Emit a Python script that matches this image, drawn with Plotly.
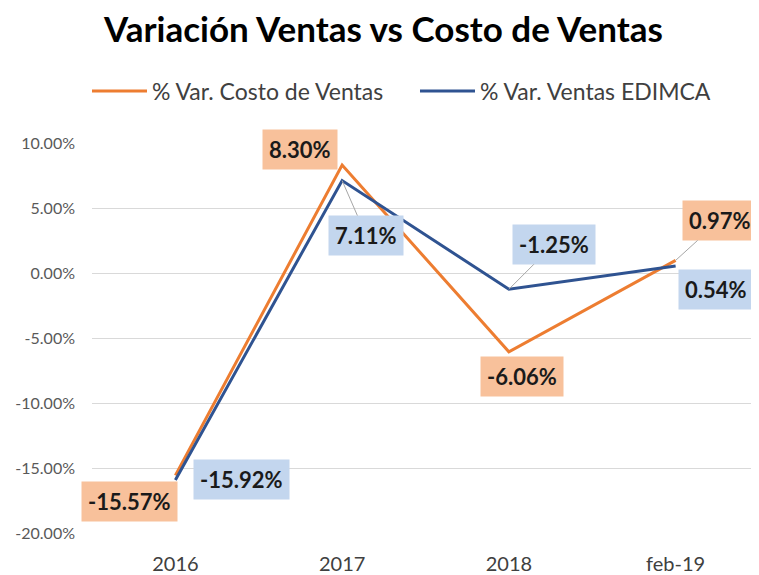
import plotly.graph_objects as go

categories = ["2016", "2017", "2018", "feb-19"]
costo_ventas = [-15.57, 8.30, -6.06, 0.97]
ventas_edimca = [-15.92, 7.11, -1.25, 0.54]
y_ticks = [10, 5, 0, -5, -10, -15, -20]
y_tick_labels = ["10.00%", "5.00%", "0.00%", "-5.00%", "-10.00%", "-15.00%", "-20.00%"]

ORANGE = "#ED7D31"
BLUE = "#2F5391"
ORANGE_BOX = "#F8C19B"
BLUE_BOX = "#C3D6EE"
FONT = "Lato"

fig = go.Figure()
fig.add_trace(go.Scatter(x=categories, y=costo_ventas, mode="lines",
                         name="% Var. Costo de Ventas",
                         line=dict(color=ORANGE, width=3)))
fig.add_trace(go.Scatter(x=categories, y=ventas_edimca, mode="lines",
                         name="% Var. Ventas EDIMCA",
                         line=dict(color=BLUE, width=3)))

# label offsets (pixels) and whether a leader line is visible
orange_offsets = [(-46, 26, False), (-42, -16, False), (13, 25, False), (44, -40, True)]
blue_offsets = [(66, 0, False), (24, 55, True), (45, -45, True), (40, 24, False)]

def add_labels(values, offsets, box):
    for i, (v, (ax, ay, leader)) in enumerate(zip(values, offsets)):
        fig.add_annotation(
            x=i, y=v, xref="x", yref="y",
            text=f"<b>{v:.2f}%</b>",
            showarrow=True, arrowhead=0, arrowwidth=1,
            arrowcolor="#A6A6A6" if leader else "rgba(0,0,0,0)",
            ax=ax, ay=ay,
            bgcolor=box, borderpad=6,
            font=dict(family=FONT, size=22, color="#1a1a1a"),
        )

add_labels(costo_ventas, orange_offsets, ORANGE_BOX)
add_labels(ventas_edimca, blue_offsets, BLUE_BOX)

# page has an 8px body margin: compensate so plot lands where reference has it
fig.update_layout(
    width=751, height=567,
    paper_bgcolor="white", plot_bgcolor="white",
    margin=dict(l=84, r=0, t=135, b=42),
    font=dict(family=FONT, color="#404040"),
    title=dict(text="<b>Variación Ventas vs Costo de Ventas</b>",
               x=0.5, xanchor="center", y=0.962, yanchor="middle",
               font=dict(family=FONT, size=35, color="#000000")),
    legend=dict(orientation="h", x=-0.0075, xanchor="left", y=1.133, yanchor="middle",
                font=dict(family=FONT, size=23, color="#404040"),
                itemwidth=55, tracegroupgap=0, entrywidth=258, entrywidthmode="pixels"),
    showlegend=True,
)
fig.update_xaxes(type="category", range=[-0.5, 3.5], showgrid=False, showline=False,
                 ticks="", tickfont=dict(family=FONT, size=20, color="#404040"),
                 ticklabelstandoff=17)
fig.update_yaxes(range=[-20, 10], tickvals=y_ticks, ticktext=y_tick_labels,
                 showgrid=True, gridcolor="#D9D9D9", gridwidth=1,
                 zeroline=False, showline=False, ticks="",
                 tickfont=dict(family=FONT, size=16, color="#595959"),
                 ticklabelstandoff=16)

fig.write_html("out.html")
